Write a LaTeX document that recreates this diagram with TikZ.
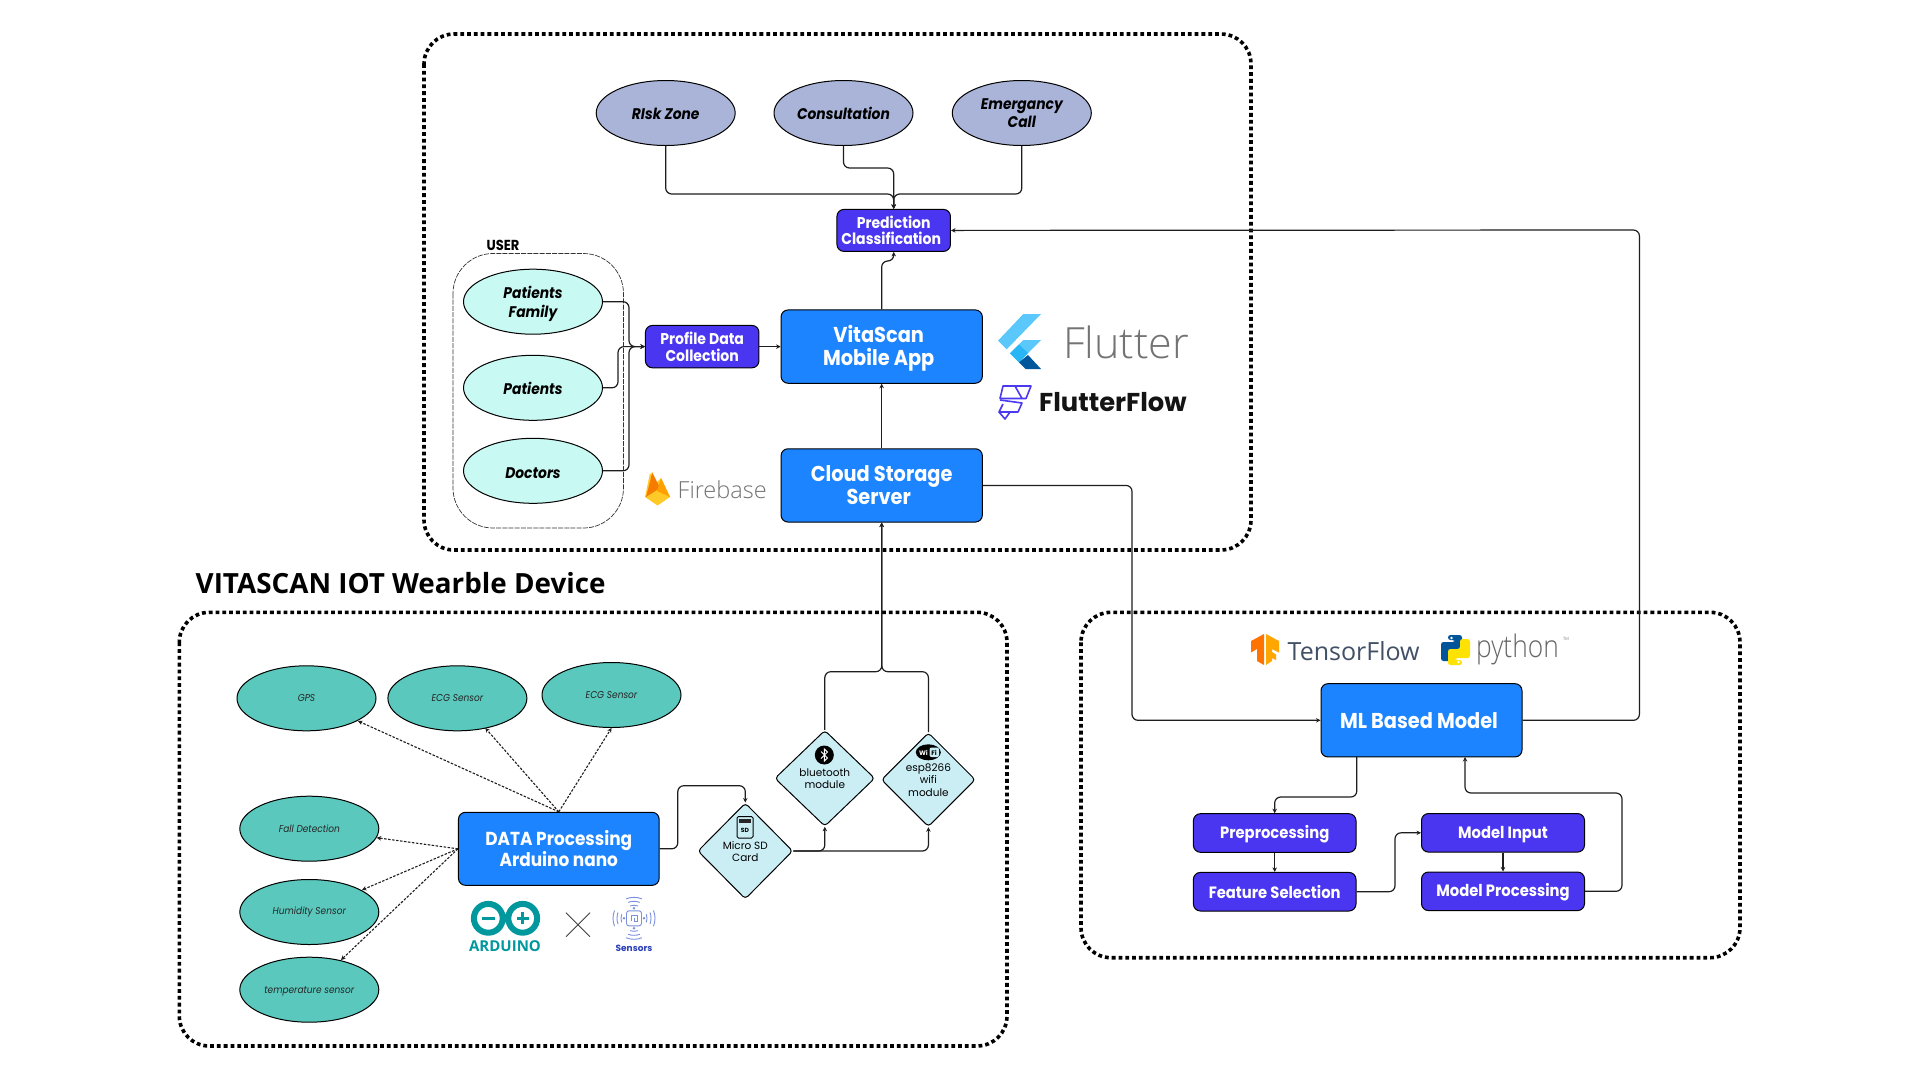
\documentclass[tikz,border=0pt]{standalone}
\usepackage{fontspec}
\setmainfont[FakeStretch=0.9]{Poppins}
\newfontfamily\widefont{Poppins}
\newfontfamily\titlefont{Open Sans}
\newfontfamily\logofont{Open Sans Light}
\usetikzlibrary{arrows.meta,shapes.geometric,calc}
\newcommand{\fsz}[2]{\fontsize{#1pt}{#2pt}\selectfont}
\definecolor{bluebox}{HTML}{1D84FF}
\definecolor{purplebox}{HTML}{4A36F0}
\definecolor{riskfill}{HTML}{A9B4D8}
\definecolor{userfill}{HTML}{C8F9F3}
\definecolor{tealfill}{HTML}{5AC8BC}
\definecolor{diafill}{HTML}{CBEEF5}
\definecolor{linec}{HTML}{1E1E1E}
\definecolor{ard}{HTML}{00979D}
\definecolor{sens}{HTML}{7B8FDD}
\definecolor{senst}{HTML}{2A3FB8}
\definecolor{ffp}{HTML}{4B39EF}
\definecolor{tfgrey}{HTML}{425066}
\definecolor{fl1}{HTML}{5AC8FA}
\definecolor{fl2}{HTML}{29B6F6}
\definecolor{fl3}{HTML}{01579B}
\definecolor{fb1}{HTML}{FFCA28}
\definecolor{fb2}{HTML}{F57C00}
\definecolor{fb3}{HTML}{FFA000}
\tikzset{
 frame/.style={draw=black,line width=3.6pt,dash pattern=on 3.8pt off 3pt,rounded corners=30pt},
 bluenode/.style={draw=black,line width=1pt,fill=bluebox,rounded corners=7pt,text=white,align=center,anchor=center,inner sep=0pt,font=\bfseries\fsz{21.5}{23}},
 purplenode/.style={draw=black,line width=1pt,fill=purplebox,rounded corners=7pt,text=white,align=center,anchor=center,inner sep=0pt,font=\bfseries\fsz{15.6}{16.8}},
 riskell/.style={ellipse,draw=black,line width=1pt,fill=riskfill,minimum width=139pt,minimum height=65pt,inner sep=0pt,align=center,font=\bfseries\itshape\fsz{15.4}{17.5}},
 userell/.style={riskell,fill=userfill},
 tealell/.style={ellipse,draw=black,line width=1pt,fill=tealfill,minimum width=139pt,minimum height=65pt,inner sep=0pt,align=center,text=black!85,font=\itshape\fsz{10}{11}},
 dia/.style={diamond,draw=black,line width=1pt,fill=diafill,rounded corners=3.5pt,inner sep=0pt,align=center,aspect=1},
 conn/.style={draw=linec,line width=1.2pt,rounded corners=6pt,-{Stealth[length=4.5pt,width=4.5pt]}},
 dconn/.style={draw=linec,line width=1.1pt,dash pattern=on 2.5pt off 1.5pt,-{Stealth[length=4.5pt,width=4.5pt]}},
}
\begin{document}
\begin{tikzpicture}[x=1pt,y=-1pt]
\useasboundingbox (0,0) rectangle (1920,1080);
\fill[white] (0,0) rectangle (1920,1080);

% frames
\draw[frame] (424,34) rectangle (1251,550);
\draw[frame] (179.3,612.3) rectangle (1007,1046);
\draw[frame] (1081,612.3) rectangle (1740,957.7);

% title
\node[anchor=base west,inner sep=0pt,font=\titlefont\bfseries\fsz{27.8}{30}] (title) at (195.5,593) {VITASCAN IOT Wearble Device};

% user group
\draw[draw=black!80,line width=0.7pt,dash pattern=on 5pt off 1.2pt,rounded corners=40pt] (453,253.5) rectangle (623.5,528);
\node[font=\fsz{14.5}{15}\bfseries,inner sep=0pt] (userlabel) at (503,245.5) {USER};

% top ellipses
\node[riskell] (risk) at (665.7,113) {\rule{0pt}{14pt}RIsk Zone};
\node[riskell] (cons) at (843.5,113) {\rule{0pt}{14pt}Consultation};
\node[riskell] (emer) at (1021.8,113) {Emergancy\\Call};

% user ellipses
\node[userell,font=\bfseries\itshape\fsz{15.4}{19}] (fam) at (533,301.7) {\rule{0pt}{16pt}Patients\\Family};
\node[userell] (pat) at (533,387.8) {\rule{0pt}{14pt}Patients};
\node[userell] (doc) at (533,470.8) {\rule{0pt}{15pt}Doctors};

% top boxes
\node[purplenode,minimum width=113.5pt,minimum height=42pt] (pred) at (893.7,230.4) {Prediction\\Classification\hspace*{5pt}};
\node[purplenode,minimum width=113.5pt,minimum height=42.4pt] (prof) at (702.2,346.6) {Profile Data\\Collection};
\node[bluenode,minimum width=201.3pt,minimum height=73.3pt] (vita) at (881.7,346.6) {\rule{0pt}{20pt}VitaScan\hspace*{6pt}\\Mobile App\hspace*{6pt}};
\node[bluenode,minimum width=201.3pt,minimum height=73.3pt] (cloud) at (881.7,485.4) {Cloud Storage\\Server\hspace*{6pt}};

% coordinates for bends
\coordinate (predin) at (893.7,194);
\coordinate (consb) at (893.7,168);
\coordinate (predup) at (893.7,261);

\draw[conn] (risk.south) |- (predin) -- (pred.north);
\draw[conn] (emer.south) |- (predin) -- (pred.north);
\draw[conn] (cons.south) |- (consb) -- (pred.north);
\draw[conn] (vita.north) |- (predup) -- (pred.south);
\draw[conn] (fam.east) -| (629,346.6) -- (prof.west);
\draw[conn] (pat.east) -| (618,346.6) -- (prof.west);
\draw[conn] (doc.east) -| (629,346.6) -- (prof.west);
\draw[conn] (prof.east) -- (vita.west);
\draw[conn] (cloud.north) -- (vita.south);

% ML panel
\node[bluenode,minimum width=201pt,minimum height=73.3pt] (ml) at (1421.5,720.3) {ML Based Model\hspace*{5pt}};
\node[purplenode,minimum width=162.6pt,minimum height=38.6pt,font=\bfseries\fsz{16.4}{17}] (pre) at (1274.7,833) {\rule{0pt}{15pt}Preprocessing};
\node[purplenode,minimum width=162.6pt,minimum height=38.6pt,font=\bfseries\fsz{16.4}{17}] (feat) at (1274.7,891.7) {Feature Selection};
\node[purplenode,minimum width=163pt,minimum height=38.6pt,font=\bfseries\fsz{16.4}{17}] (minp) at (1503,832.8) {\rule{0pt}{15pt}Model Input};
\node[purplenode,minimum width=163pt,minimum height=38.6pt,font=\bfseries\fsz{16.4}{17}] (mproc) at (1503,891.3) {\rule{0pt}{15pt}Model Processing};

\draw[conn] (cloud.east) -| (1132,720.3) -- (ml.west);
\draw[conn] (ml.east) -| (1639.4,230) -- (pred.east);
\draw[conn] (1356.8,757) |- (1274.7,797) -- (pre.north);
\draw[conn] (pre.south) -- (feat.north);
\draw[conn] (feat.east) -| (1395,832.8) -- (minp.west);
\draw[conn] (minp.south) -- (mproc.north);
\draw[conn] (mproc.east) -| (1622,793) -| (1465,757);

% IoT panel ellipses
\node[tealell] (gps) at (306.5,698.3) {GPS};
\node[tealell] (ecga) at (457.4,698.3) {ECG Sensor};
\node[tealell] (ecgb) at (611.5,695) {ECG Sensor};
\node[tealell] (fall) at (309.3,828.7) {Fall Detection};
\node[tealell] (hum) at (309.3,912) {Humidity Sensor};
\node[tealell] (temp) at (309.3,989.7) {\rule{0pt}{10pt}temperature sensor};

\node[bluenode,minimum width=200.7pt,minimum height=73pt,font=\bfseries\fsz{18.8}{19.5}] (data) at (558.8,848.8) {DATA Processing\\Arduino nano};

\draw[dconn] (data.north) -- (358,721);
\draw[dconn] (data.north) -- (485.3,728);
\draw[dconn] (data.north) -- (611.5,728);
\draw[dconn] (data.west) -- (376.7,837.7);
\draw[dconn] (data.west) -- (362,890);
\draw[dconn] (data.west) -- (341,960);

% diamonds
\node[dia,minimum width=95pt,minimum height=96pt] (sd) at (745.3,851) {};
\node[dia,minimum width=100pt,minimum height=96pt] (bt) at (824.8,778.3) {};
\node[dia,minimum width=94pt,minimum height=94pt] (wifi) at (928.4,779.7) {};
\node[font=\widefont\fsz{10.5}{11.6},align=center,inner sep=0pt] (sdt) at (745.3,851.3) {Micro SD\\Card};
\node[font=\widefont\fsz{10.5}{12},align=center,inner sep=0pt] (btt) at (824.8,778.3) {bluetooth\\module};
\node[font=\widefont\fsz{10.5}{12.5},align=center,inner sep=0pt] (wifit) at (928.4,780) {esp8266\\wifi\\module};

\draw[conn] (data.east) -- (677.8,848.8) |- (745.3,785.7) -- (sd.north);
\draw[conn] (sd.east) -| (bt.south);
\draw[conn] (sd.east) -| (wifi.south);
\coordinate (junc) at (881.8,671.7);
\draw[conn] (bt.north) |- (junc) -- (cloud.south);
\draw[conn] (wifi.north) |- (junc) -- (cloud.south);

% SD icon
\draw[draw=black,line width=1pt,fill=diafill,rounded corners=1.5pt] (737,816.5) rectangle (753,838);
\fill[black!85] (739,818.5) rectangle (751,823);
\node[font=\widefont\bfseries\fsz{6}{7},inner sep=0pt] (sdi) at (745,830) {SD};
% bluetooth icon
\fill[black] (824.3,755) circle (9.5);
\draw[white,line width=1pt] (821,751.5) -- (827.5,758) -- (824.3,761) -- (824.3,749) -- (827.5,752) -- (821,758.5);
% wifi icon
\fill[black] (928.3,752.3) ellipse (12.5 and 8);
\fill[diafill,rounded corners=2pt] (929.5,747.5) rectangle (939,757);
\node[text=white,font=\widefont\bfseries\fsz{6.5}{7},inner sep=0pt] (wi1) at (923.5,752.5) {Wi};
\node[text=black,font=\widefont\bfseries\fsz{6.5}{7},inner sep=0pt] (wi2) at (934,752.5) {Fi};

% arduino logo
\begin{scope}[draw=ard,line width=6pt]
\draw (488.3,918.3) circle (14.4);
\draw (522.7,918.3) circle (14.4);
\end{scope}
\fill[ard] (500,907) -- (511,921) -- (511,929) -- (500,915) -- cycle;
\fill[ard] (511,907) -- (500,921) -- (500,929) -- (511,915) -- cycle;
\fill[ard] (481.5,916.8) rectangle (494.5,919.8);
\fill[ard] (516.5,916.8) rectangle (528.5,919.8);
\fill[ard] (521,912.3) rectangle (524,924.3);
\node[anchor=base,text=ard,inner sep=0pt,font=\titlefont\bfseries\fsz{15}{15}] (ardt) at (505,951) {ARDUINO};
% cross
\draw[black!75,line width=0.8pt] (566,912.7) -- (590,936.7);
\draw[black!75,line width=0.8pt] (590,912.7) -- (566,936.7);
% sensors icon
\begin{scope}[shift={(634,918.3)},draw=sens,line width=0.9pt]
\draw[rounded corners=2.5pt] (-7.5,-7.5) rectangle (7.5,7.5);
\draw (-2.5,3) -- (-2.5,-3) -- (3,-3) -- (3,3) -- (0,3) -- (0,0);
\foreach \a in {0,90,180,270} {
  \draw (\a-18:13pt) arc (\a-18:\a+18:13pt);
  \draw (\a-20:17pt) arc (\a-20:\a+20:17pt);
  \draw (\a-22:21pt) arc (\a-22:\a+22:21pt);
  \fill[sens] (\a:10pt) circle (1.4pt);
}
\end{scope}
\node[text=senst,font=\widefont\bfseries\fsz{9}{10},inner sep=0pt] (senst) at (634,948.7) {Sensors};

% firebase logo
\fill[fb1] (645,497) -- (650,473) -- (656,483) -- (661,478) -- (670,497) -- (657.5,505.5) -- cycle;
\fill[fb2] (652,472) -- (660,488) -- (646,497) -- (650,482) -- cycle;
\fill[fb3] (661,478) -- (670,497) -- (657,491) -- cycle;
\node[anchor=base west,text=black!55,inner sep=0pt,font=\logofont\fsz{23.5}{26}] (fbt) at (677.5,498.6) {Firebase};

% flutter logo
\fill[fl1] (1023.3,314) -- (1041,314) -- (1006.7,349.3) -- (998,340.7) -- cycle;
\fill[fl1] (1041,340) -- (1023.3,340) -- (1010,353.3) -- (1019,362.3) -- cycle;
\fill[fl2] (1010,353.3) -- (1019,344.5) -- (1028,353) -- (1019,362.3) -- cycle;
\fill[fl3] (1019,362.3) -- (1028,355) -- (1041,369) -- (1025.7,369) -- cycle;
\node[anchor=base west,text=black!55,inner sep=0pt,font=\logofont\fsz{43}{46}] (flt) at (1063,358) {Flutter};

% flutterflow logo
\begin{scope}[draw=ffp,line width=1.6pt,line join=round]
\draw (1003,386) -- (1031,386) -- (1026,398.5) -- (1000,398.5) -- cycle;
\draw (1015,386) -- (1022,398.5);
\draw (1000,400) -- (1022,403) -- (1018,412) -- (999,412) -- (1003,404);
\draw (999,412) -- (1005,419) -- (1010,412);
\end{scope}
\node[anchor=base west,text=black!92,inner sep=0pt,font=\widefont\bfseries\fsz{25.8}{27}] (fft) at (1039,411.7) {FlutterFlow};

% tensorflow logo
\fill[orange!90!red] (1251,641) -- (1264,634) -- (1264,665) -- (1257,661) -- (1257,649) -- (1251,652.5) -- cycle;
\fill[orange!70!yellow] (1266,634) -- (1279,641) -- (1279,652.5) -- (1272,649) -- (1272,652) -- (1276,654.5) -- (1276,660) -- (1272,658) -- (1272,661) -- (1266,665) -- cycle;
\node[anchor=base west,text=tfgrey,inner sep=0pt,font=\titlefont\fsz{25}{27}] (tft) at (1287.5,660) {TensorFlow};

% python logo
\fill[blue!45!cyan!60!black,rounded corners=2.5pt] (1448,635) -- (1462,635) -- (1462,651) -- (1450,651) -- (1450,661) -- (1441,661) -- (1441,642) -- (1455,642) -- (1455,640) -- (1448,640) -- cycle;
\fill[yellow!85!orange,rounded corners=2.5pt] (1462,665) -- (1448,665) -- (1448,649) -- (1460,649) -- (1460,639) -- (1470,639) -- (1470,658) -- (1455,658) -- (1455,660) -- (1462,660) -- cycle;
\fill[white] (1451.5,638) circle (1.3);
\fill[white] (1458.5,662) circle (1.3);
\node[anchor=base west,text=black!60,inner sep=0pt,font=\logofont\fsz{31}{33}] (pyt) at (1476,657) {\scalebox{0.85}[1]{python}};
\node[anchor=base west,text=black!45,inner sep=0pt,font=\fsz{4.5}{5}] (tm) at (1563,640) {TM};
\end{tikzpicture}
\end{document}
